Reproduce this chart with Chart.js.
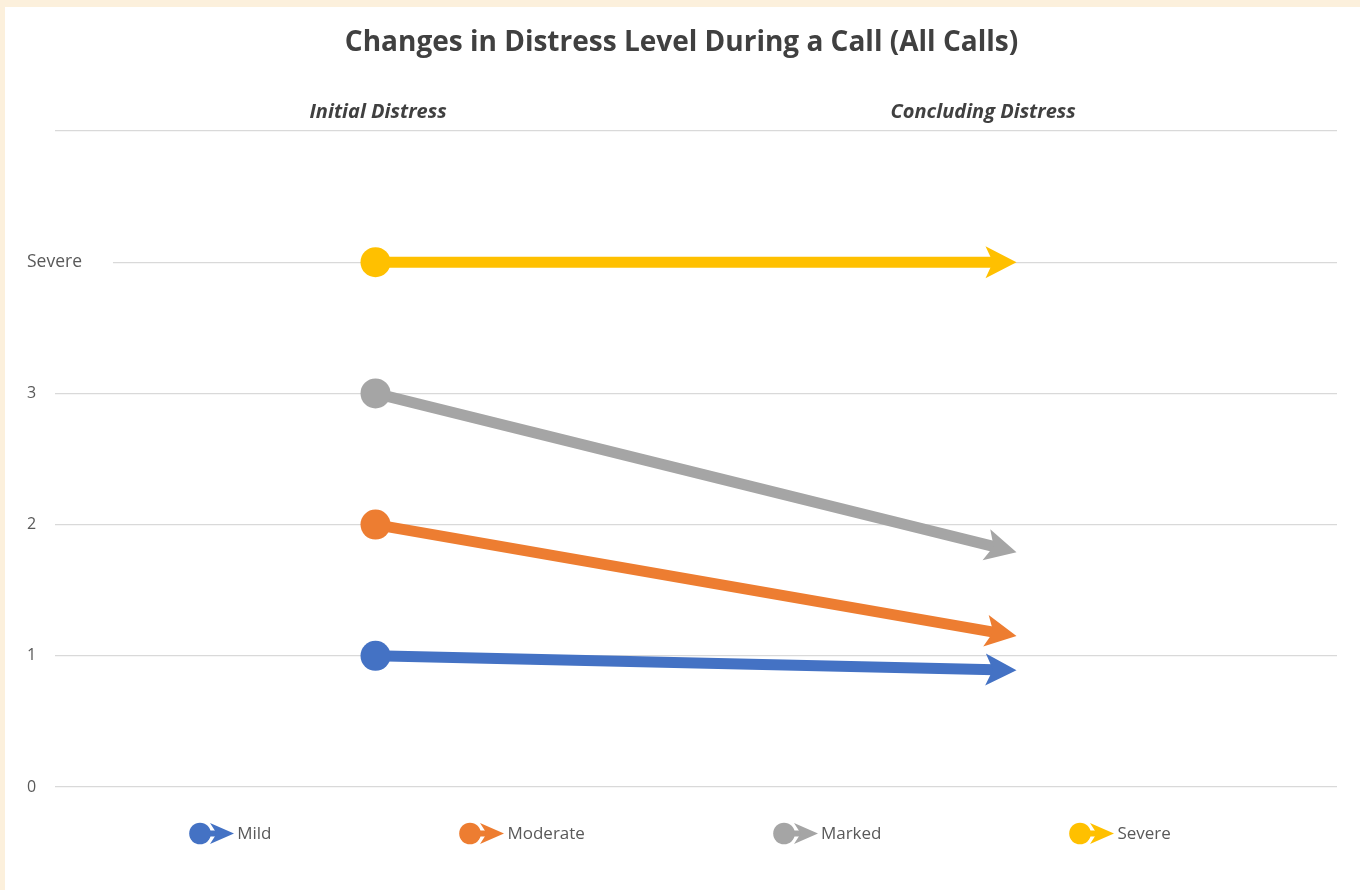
<!DOCTYPE html>
<html><head><meta charset="utf-8">
<script src="https://cdn.jsdelivr.net/npm/chart.js@4.4.1/dist/chart.umd.min.js"></script>
<style>
html,body{margin:0;padding:0;background:#FCF0DC;}
#wrap{position:relative;width:1360px;height:890px;}
#c{display:block;}
#legend{position:absolute;left:0;top:822px;width:1360px;height:22px;display:flex;justify-content:center;align-items:center;gap:188px;font:17px 'Open Sans',sans-serif;color:#595959;line-height:22px;}
#legend .item{display:flex;align-items:center;white-space:nowrap;}
#legend .item canvas{margin-right:3px;display:block;}
</style></head><body>
<div id="wrap"><canvas id="c" width="1360" height="890"></canvas><div id="legend"></div></div>
<script>
// ---- data ----
const stages = ['Initial Distress', 'Concluding Distress'];
const levelNames = ['Mild', 'Moderate', 'Marked', 'Severe'];
const initialLevels = [1, 2, 3, 4];
const concludingLevels = [0.89, 1.15, 1.79, 4];
const yTickLabels = ['0', '1', '2', '3', 'Severe'];
const seriesColors = ['#4472C4', '#ED7D31', '#A5A5A5', '#FFC000'];

// ---- layout / style constants ----
const headerAt = [0.252, 0.724];
const FONT = "'Open Sans', sans-serif";

function arrowHead(ctx, tip, ang, L, W, notch) {
  const c = Math.cos(ang), s = Math.sin(ang);
  const P = (u, v) => [tip.x + u * c - v * s, tip.y + u * s + v * c];
  ctx.beginPath();
  ctx.moveTo(...P(0, 0));
  ctx.lineTo(...P(-L, W));
  ctx.lineTo(...P(-L * notch, 0));
  ctx.lineTo(...P(-L, -W));
  ctx.closePath();
}

const bgPlugin = {
  id: 'bg',
  beforeDraw(chart) {
    const ctx = chart.ctx;
    ctx.save();
    ctx.fillStyle = '#FCF0DC';
    ctx.fillRect(0, 0, chart.width, chart.height);
    ctx.fillStyle = '#FFFFFF';
    ctx.fillRect(5, 7, chart.width - 5, chart.height - 7);
    ctx.restore();
  }
};

const arrowPlugin = {
  id: 'arrows',
  beforeDatasetDraw(chart, args) {
    const pts = args.meta.data;
    const a = pts[0], b = pts[pts.length - 1];
    const ang = Math.atan2(b.y - a.y, b.x - a.x);
    const c = Math.cos(ang), s = Math.sin(ang);
    const P = (u, v) => [b.x + u * c - v * s, b.y + u * s + v * c];
    const ctx = chart.ctx;
    ctx.save();
    ctx.beginPath();
    ctx.rect(0, 0, chart.width, chart.height);
    ctx.moveTo(...P(-20, -9));
    ctx.lineTo(...P(8, -9));
    ctx.lineTo(...P(8, 9));
    ctx.lineTo(...P(-20, 9));
    ctx.closePath();
    ctx.clip('evenodd');
  },
  afterDatasetDraw(chart, args) {
    const ctx = chart.ctx;
    ctx.restore();
    const pts = args.meta.data;
    const a = pts[0], b = pts[pts.length - 1];
    const ang = Math.atan2(b.y - a.y, b.x - a.x);
    ctx.save();
    ctx.fillStyle = chart.data.datasets[args.index].borderColor;
    arrowHead(ctx, b, ang, 31, 16, 0.76);
    ctx.fill();
    ctx.restore();
  }
};

function legendIcon(color) {
  const cv = document.createElement('canvas');
  cv.width = 45; cv.height = 23;
  const ctx = cv.getContext('2d');
  ctx.fillStyle = color;
  ctx.strokeStyle = color;
  ctx.lineWidth = 6;
  ctx.beginPath(); ctx.moveTo(10, 11.5); ctx.lineTo(30, 11.5); ctx.stroke();
  ctx.beginPath(); ctx.arc(11, 11.5, 10.8, 0, Math.PI * 2); ctx.fill();
  arrowHead(ctx, {x: 45, y: 11.5}, 0, 24, 10.5, 0.72);
  ctx.fill();
  return cv;
}

const htmlLegend = {
  id: 'htmlLegend',
  afterInit(chart) {
    const box = document.getElementById('legend');
    box.innerHTML = '';
    chart.data.datasets.forEach(ds => {
      const it = document.createElement('div');
      it.className = 'item';
      it.appendChild(legendIcon(ds.borderColor));
      const t = document.createElement('span');
      t.textContent = ds.label;
      it.appendChild(t);
      box.appendChild(it);
    });
  }
};

const datasets = levelNames.map((name, i) => ({
  label: name,
  data: [initialLevels[i], concludingLevels[i]],
  xAxisID: 'x',
  yAxisID: 'y',
  borderColor: seriesColors[i],
  backgroundColor: seriesColors[i],
  borderWidth: 11,
  borderCapStyle: 'butt',
  pointRadius: c => c.dataIndex === 0 ? 15 : 0,
  pointHoverRadius: c => c.dataIndex === 0 ? 15 : 0,
  pointBorderWidth: 0,
  pointBackgroundColor: seriesColors[i],
  tension: 0
}));

new Chart(document.getElementById('c'), {
  type: 'line',
  data: { labels: stages, datasets },
  plugins: [bgPlugin, arrowPlugin, htmlLegend],
  options: {
    responsive: false,
    animation: false,
    events: [],
    layout: { padding: { left: 26, right: 23, top: 0, bottom: 103 } },
    plugins: {
      legend: { display: false },
      tooltip: { enabled: false },
      title: {
        display: true,
        text: 'Changes in Distress Level During a Call (All Calls)',
        color: '#404040',
        font: { family: FONT, size: 28, weight: 'bold' },
        padding: { top: 26.2, bottom: 0 }
      }
    },
    scales: {
      x: {
        type: 'category',
        display: false,
        offset: true
      },
      xTop: {
        type: 'linear',
        position: 'top',
        min: 0, max: 1,
        grid: { display: false, drawTicks: false },
        border: { display: false },
        afterBuildTicks: s => { s.ticks = headerAt.map(v => ({ value: v })); },
        afterFit: s => { s.height = 131 - 59.8; },
        ticks: {
          autoSkip: false, maxRotation: 0, padding: 7,
          color: '#404040',
          font: { family: FONT, size: 20, weight: 'bold', style: 'italic' },
          callback: (v, i) => stages[i]
        }
      },
      y: {
        min: 0, max: 5,
        afterFit: s => { s.width = 55 - 26; },
        grid: { color: '#D9D9D9', lineWidth: 1.3, drawTicks: false },
        border: { display: false },
        ticks: {
          stepSize: 1,
          mirror: true,
          padding: -28,
          crossAlign: 'near',
          color: '#595959',
          font: c => ({ family: FONT, size: (c.tick && c.tick.value === 4) ? 17.5 : 16 }),
          callback: v => (yTickLabels[v] !== undefined ? yTickLabels[v] : ''),
          showLabelBackdrop: true,
          backdropColor: c => (c.tick && c.tick.value === 4) ? '#FFFFFF' : 'rgba(255,255,255,0)',
          backdropPadding: { top: 3, bottom: 3, left: 0, right: 31 }
        }
      }
    }
  }
});
</script>
</body></html>
